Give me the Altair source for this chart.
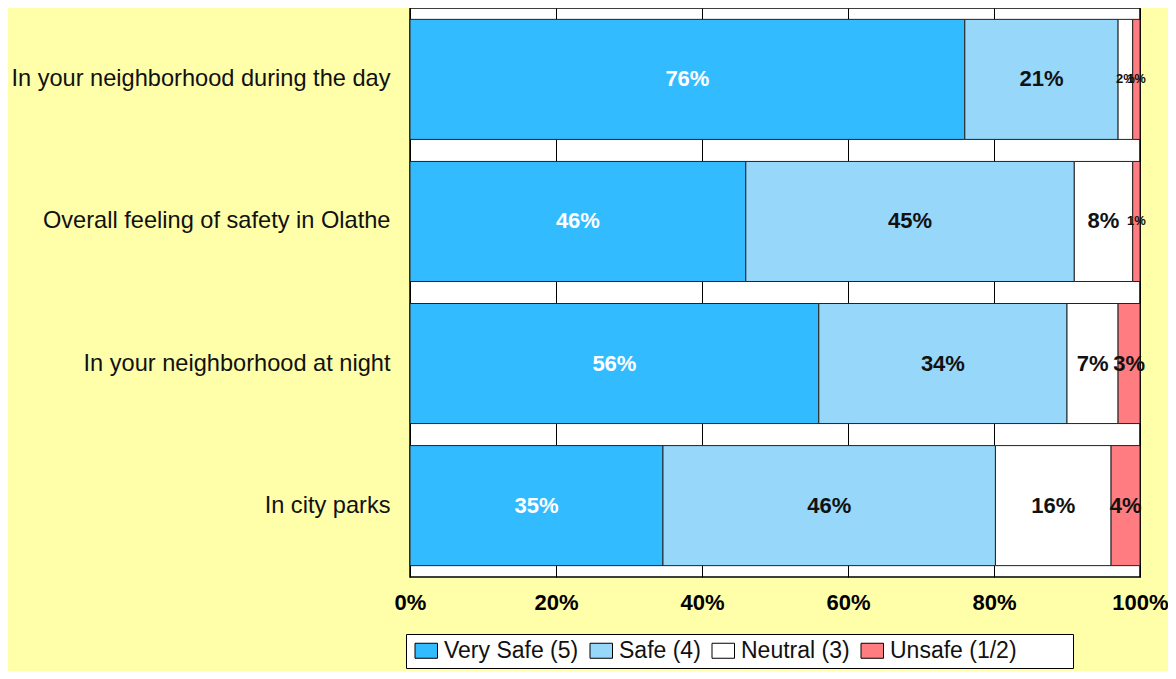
import altair as alt
import pandas as pd

categories = [
    "In your neighborhood during the day",
    "Overall feeling of safety in Olathe",
    "In your neighborhood at night",
    "In city parks",
]
series = ["Very Safe (5)", "Safe (4)", "Neutral (3)", "Unsafe (1/2)"]
very_safe = [76, 46, 56, 35]
safe = [21, 45, 34, 46]
neutral = [2, 8, 7, 16]
unsafe = [1, 1, 3, 4]
colors = ["#33BBFF", "#97D7FA", "#FFFFFF", "#FF7C80"]
x_ticks = [0, 0.2, 0.4, 0.6, 0.8, 1.0]

rows = []
for i, cat in enumerate(categories):
    vals = [very_safe[i], safe[i], neutral[i], unsafe[i]]
    total = sum(vals)
    cum = 0
    for j, (s, v) in enumerate(zip(series, vals)):
        rows.append(dict(category=cat, series=s, order=j, pct=v,
                         start=cum / total, end=(cum + v) / total,
                         mid=(cum + v / 2) / total, label=f"{v}%"))
        cum += v
df = pd.DataFrame(rows)

FONT = "Liberation Sans"
PAD = "\u00a0" * 8 + "\u200b"

y_enc = alt.Y(
    "category:N", sort=categories, title=None,
    scale=alt.Scale(paddingInner=0.155, paddingOuter=0.08),
    axis=alt.Axis(ticks=False, domain=False, labelPadding=20, labelFontSize=23.6,
                  labelFont=FONT, labelColor="#111", labelLimit=500),
)

bars = alt.Chart(df).mark_bar(stroke="#222", strokeWidth=1).encode(
    x=alt.X("start:Q", title=None,
            scale=alt.Scale(domain=[0, 1], nice=False),
            axis=alt.Axis(values=x_ticks, format=".0%", domain=False, ticks=False,
                          labelPadding=15, labelFontSize=22, labelFontWeight="bold",
                          labelFont=FONT, labelColor="#000", labelFlush=False,
                          grid=True, gridColor="#000", gridWidth=1, gridOpacity=1)),
    x2="end:Q",
    y=y_enc,
    color=alt.Color(
        "series:N", sort=series,
        scale=alt.Scale(domain=series, range=colors),
        legend=alt.Legend(
            title=None, orient="none", legendX=-4, legendY=626,
            direction="horizontal", fillColor="#FFFFFF", strokeColor="#000",
            padding=5, symbolType="M-1,-1H2V1H-1Z", symbolSize=225,
            symbolStrokeColor="#000", symbolStrokeWidth=1, symbolOpacity=1,
            labelFontSize=23, labelFont=FONT, labelColor="#111",
            columnPadding=7, labelOffset=10, labelLimit=400,
            labelExpr=f"datum.label == 'Unsafe (1/2)' ? datum.label + '{PAD}' : datum.label",
        ),
    ),
    order=alt.Order("order:Q"),
)

text = alt.Chart(df).mark_text(font=FONT, fontWeight="bold", baseline="middle",
                               align="center").encode(
    x=alt.X("mid:Q"),
    y=alt.Y("category:N", sort=categories),
    text="label:N",
    color=alt.condition(alt.datum.order == 0, alt.value("#FFFFFF"), alt.value("#111")),
    size=alt.condition(alt.datum.pct <= 2, alt.value(13), alt.value(22)),
)

chart = alt.layer(bars, text).properties(
    width=730, height=569,
    autosize=alt.AutoSizeParams(type="none"),
    padding={"left": 402, "top": 0, "right": 28, "bottom": 94},
    background="#FFFFAA",
).configure_view(fill="#FFFFFF", stroke="#000", strokeWidth=1.5)

chart.save("out.html", embed_options={"renderer": "svg", "actions": False})
